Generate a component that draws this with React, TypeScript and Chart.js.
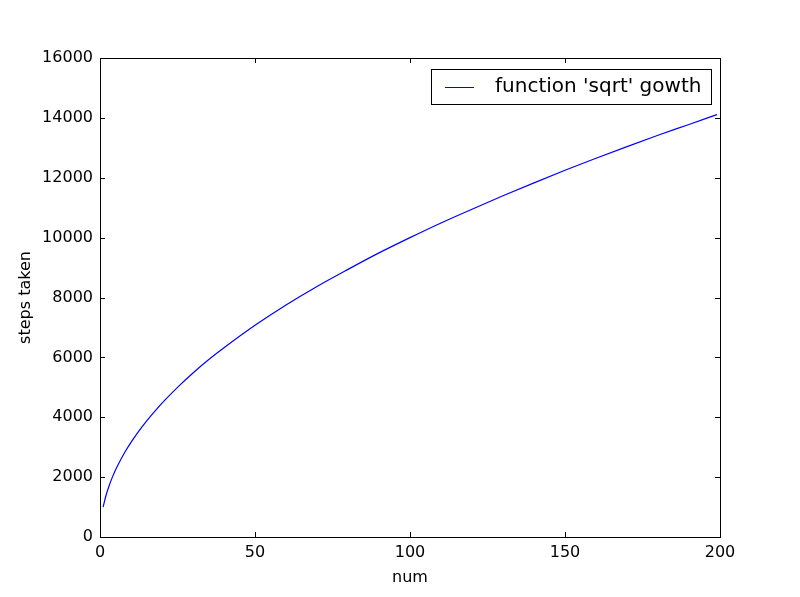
import React, { useEffect, useRef } from "react";
import { Chart, registerables } from "chart.js";

Chart.register(...registerables);

const xValues = [1, 2, 3, 4, 5, 6, 8, 10, 12, 15, 18, 21, 25, 30, 35, 40, 50, 60, 70, 80, 90, 100, 110, 120, 130, 140, 150, 160, 170, 180, 190, 199];
const yValues = [1000, 1410, 1730, 2000, 2240, 2450, 2830, 3160, 3460, 3870, 4240, 4580, 5000, 5480, 5920, 6320, 7070, 7750, 8370, 8940, 9490, 10000, 10490, 10950, 11400, 11830, 12250, 12650, 13040, 13420, 13780, 14110];
const seriesLabel = "function 'sqrt' gowth";
const xTicks = [0, 50, 100, 150, 200];
const yTicks = [0, 2000, 4000, 6000, 8000, 10000, 12000, 14000, 16000];

const FONT = "'DejaVu Sans', sans-serif";

const framePlugin = {
  id: "frame",
  afterDatasetsDraw(chart: any) {
    const { ctx, chartArea: a, scales } = chart;
    const t = 5;
    ctx.save();
    ctx.strokeStyle = "#000";
    ctx.lineWidth = 1;
    ctx.beginPath();
    for (const v of xTicks) {
      const x = Math.round(scales.x.getPixelForValue(v)) + 0.5;
      ctx.moveTo(x, a.bottom);
      ctx.lineTo(x, a.bottom - t);
      ctx.moveTo(x, a.top);
      ctx.lineTo(x, a.top + t);
    }
    for (const v of yTicks) {
      const y = Math.round(scales.y.getPixelForValue(v)) + 0.5;
      ctx.moveTo(a.left, y);
      ctx.lineTo(a.left + t, y);
      ctx.moveTo(a.right, y);
      ctx.lineTo(a.right - t, y);
    }
    ctx.stroke();
    ctx.strokeRect(Math.round(a.left) + 0.5, Math.round(a.top) + 0.5, Math.round(a.right - a.left), Math.round(a.bottom - a.top));
    // legend
    const lx = 431.5, ly = 69.5, lw = 280, lh = 35;
    ctx.fillStyle = "#fff";
    ctx.fillRect(lx, ly, lw, lh);
    ctx.strokeRect(lx, ly, lw, lh);
    ctx.strokeStyle = "#0000ff";
    ctx.beginPath();
    ctx.moveTo(445, 87.5);
    ctx.lineTo(474, 87.5);
    ctx.stroke();
    ctx.fillStyle = "#000";
    ctx.font = "20px " + FONT;
    ctx.textBaseline = "middle";
    ctx.fillText(chart.data.datasets[0].label, 495, 87);
    ctx.restore();
  },
};

export default function App() {
  const ref = useRef<HTMLCanvasElement>(null);
  useEffect(() => {
    document.body.style.margin = "0";
    const chart = new Chart(ref.current!, {
      type: "line",
      data: {
        datasets: [
          {
            label: seriesLabel,
            data: xValues.map((x, i) => ({ x, y: yValues[i] })),
            borderColor: "#0000ff",
            borderWidth: 1.2,
            pointRadius: 0,
            fill: false,
            cubicInterpolationMode: "monotone",
          },
        ],
      },
      options: {
        responsive: false,
        animation: false,
        layout: { padding: { top: 58, right: 80, left: 0, bottom: 0 } },
        plugins: { legend: { display: false }, tooltip: { enabled: false } },
        scales: {
          x: {
            type: "linear",
            min: 0,
            max: 200,
            afterBuildTicks: (s: any) => { s.ticks = xTicks.map((v) => ({ value: v })); },
            afterFit: (s: any) => { s.height = 60; },
            grid: { display: false, drawTicks: false },
            border: { display: false },
            ticks: { color: "#000", font: { family: FONT, size: 16 }, padding: 6, maxRotation: 0 },
            title: { display: true, text: "num", color: "#000", font: { family: FONT, size: 16 }, padding: { top: 0, bottom: 10 } },
          },
          y: {
            type: "linear",
            min: 0,
            max: 16000,
            afterBuildTicks: (s: any) => { s.ticks = yTicks.map((v) => ({ value: v })); },
            afterFit: (s: any) => { s.width = 100; },
            grid: { display: false, drawTicks: false },
            border: { display: false },
            ticks: { color: "#000", font: { family: FONT, size: 16 }, padding: 7, callback: (v: any) => String(v) },
            title: { display: true, text: "steps taken", color: "#000", font: { family: FONT, size: 16 }, padding: { top: 16, bottom: 0 } },
          },
        },
      },
      plugins: [framePlugin],
    } as any);
    return () => chart.destroy();
  }, []);
  return (
    <div style={{ position: "absolute", left: 0, top: 0, width: 800, height: 597, background: "#fff" }}>
      <canvas ref={ref} width={800} height={597} style={{ width: 800, height: 597 }} />
    </div>
  );
}
